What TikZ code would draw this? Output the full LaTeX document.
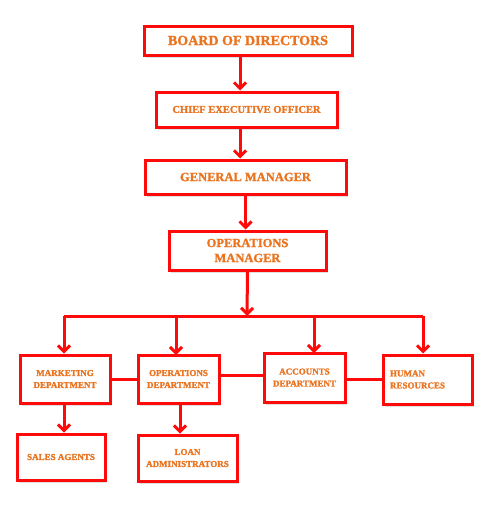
\documentclass[tikz,border=0pt]{standalone}
\usepackage{fontspec}
\setmainfont[BoldFeatures={FakeBold=1.5}]{Liberation Serif}
\usetikzlibrary{arrows.meta,shadows}
\definecolor{boxred}{HTML}{FF0A0A}
\definecolor{txtorange}{HTML}{EA7420}
\tikzset{
  orgbox/.style={draw=boxred, line width=3pt, fill=white, rectangle,
    drop shadow={opacity=0.25, shadow xshift=2pt, shadow yshift=-2.5pt},
    text=txtorange, align=center, inner sep=0pt, font=\bfseries},
  bigtext/.style={font=\bfseries\fontsize{14}{16}\selectfont},
  midtext/.style={font=\bfseries\fontsize{12.5}{15}\selectfont},
  ceotext/.style={font=\bfseries\fontsize{10.5}{12}\selectfont},
  smalltext/.style={font=\bfseries\fontsize{9}{12}\selectfont},
  conn/.style={draw=boxred, line width=3pt},
  arr/.style={conn, -{Straight Barb[length=6pt,width=12pt,line width=3pt]}}
}
\begin{document}
\begin{tikzpicture}[x=1pt,y=-1pt]
\useasboundingbox[fill=white] (0,0) rectangle (488,506);
\node[orgbox,bigtext,minimum width=208pt,minimum height=29pt] (board) at (248,40.5) {BOARD OF DIRECTORS};
\node[orgbox,ceotext,minimum width=181pt,minimum height=35pt] (ceo) at (246.5,109.5) {CHIEF EXECUTIVE OFFICER};
\node[orgbox,midtext,minimum width=201pt,minimum height=34pt] (gm) at (245.5,177) {GENERAL MANAGER};
\node[orgbox,midtext,minimum width=157pt,minimum height=39pt] (opsmgr) at (247.5,250.5) {OPERATIONS\\MANAGER};
\node[orgbox,smalltext,minimum width=90pt,minimum height=48pt] (mkt) at (65,379) {MARKETING\\DEPARTMENT};
\node[orgbox,smalltext,minimum width=81pt,minimum height=48pt] (opsdept) at (178.5,379) {OPERATIONS\\DEPARTMENT};
\node[orgbox,smalltext,minimum width=81pt,minimum height=49pt] (acc) at (304.5,377.5) {ACCOUNTS\\DEPARTMENT};
\node[orgbox,smalltext,minimum width=89pt,minimum height=49pt,text width=75pt,inner xsep=7pt,align=left] (hr) at (427.5,379.5) {HUMAN\\RESOURCES};
\node[orgbox,smalltext,minimum width=88pt,minimum height=46pt] (sales) at (61,457) {SALES AGENTS};
\node[orgbox,smalltext,minimum width=99pt,minimum height=46pt] (loan) at (187.5,458) {LOAN\\ADMINISTRATORS};
% vertical chain
\draw[arr] ([xshift=-8pt]board.south) -- ([xshift=-8pt]board.south |- ceo.north);
\draw[arr] ([xshift=-6.5pt]ceo.south) -- ([xshift=-6.5pt]ceo.south |- gm.north);
\draw[arr] (gm.south) -- (gm.south |- opsmgr.north);
\coordinate (bus) at (247,316);
\coordinate (busL) at (64,316);
\coordinate (busR) at (423,316);
\draw[arr] (opsmgr.south) -- (bus);
\draw[conn] (busL) -- (busR);
\draw[arr] (busL) -- (busL |- mkt.north);
\draw[arr] (176,316) -- (176,355);
\draw[arr] (314,316) -- (314,353);
\draw[arr] (busR) -- (busR |- hr.north);
% horizontal links
\draw[conn] (mkt.east) -- (opsdept.west);
\draw[conn] ([yshift=4pt]opsdept.east) -- ([yshift=4pt]opsdept.east -| acc.west);
\draw[conn] ([yshift=-2pt]acc.east) -- ([yshift=-2pt]acc.east -| hr.west);
% lower arrows
\draw[arr] (mkt.south -| 64,0) -- (sales.north -| 64,0);
\draw[arr] (opsdept.south -| 180,0) -- (loan.north -| 180,0);
\end{tikzpicture}
\end{document}
